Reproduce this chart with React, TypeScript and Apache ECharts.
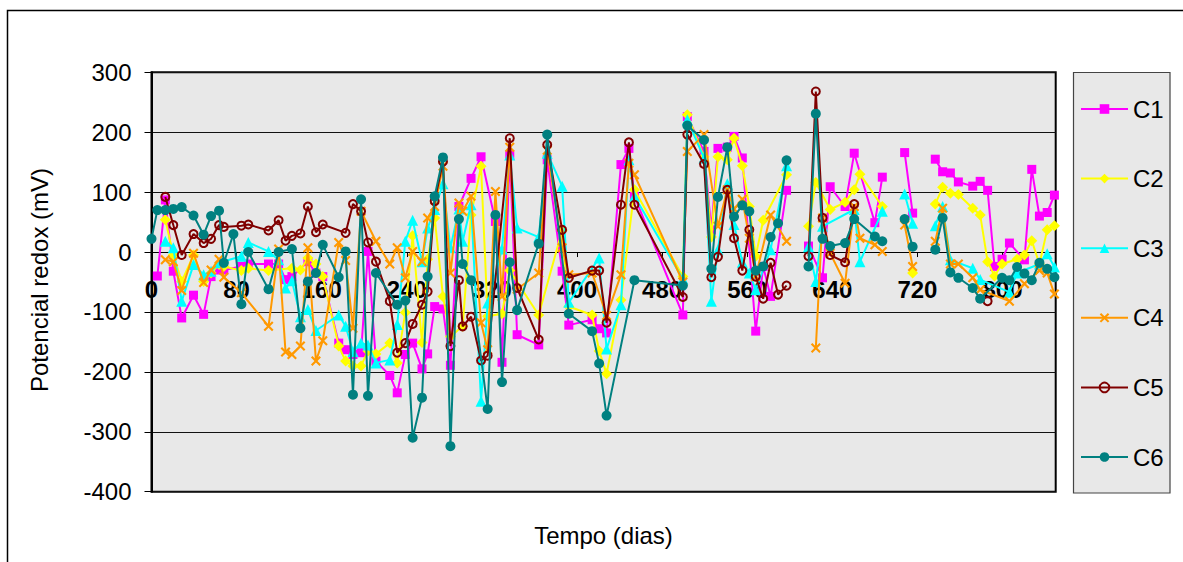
import React, { useEffect, useRef } from "react";
import * as echarts from "echarts";

// Sampling days (x) shared by all cells
const days = [
  0, 5.5, 13, 20.5, 28.4, 39.5, 49, 56, 63.5, 68, 77, 84.5, 91, 110, 119.5, 126, 132, 140, 147, 154.6,
  161, 176, 182.5, 189.4, 197, 203.5, 211, 224, 231, 238.6, 245.5, 254.3, 259.6, 266.2, 274, 281, 289,
  292.5, 300.4, 309.8, 316, 323.3, 329.5, 336.8, 343.7, 364, 372, 386, 392.3, 414.2, 420.8, 427.8,
  441.3, 448.8, 454, 499.5, 503.7, 519.4, 526.3, 532.5, 541.3, 547.6, 555.4, 562, 568, 575, 582, 589,
  597, 617.6, 624.5, 630.8, 638, 652, 660.6, 666, 680, 687, 708, 715.5, 736.8, 743.7, 751, 758.5, 772,
  779, 786, 792.5, 799.6, 806.5, 813.7, 820.6, 827.5, 834.7, 842, 848.8,
];

// Redox potential (mV) per cell; null = no reading that day
const c1 = [
  null, -40, 87, -32, -110, -72, -104, -41, -30, -30, null, -24, -20, -20, -20, -46, -41, null, -16, -35,
  -41, -152, -163, -171, -168, 1, -182, -206, -235, -171, -152, -195, -170, -91, -95, -189, 76,
  null, 123, 159, null, 51, -184, 162, -138, -155, 154, -32, -122, -113, -128, -135,
  146, 173, 93, -105, 226, 168, 37, 173, 175, 193, 157, null, -132, -24, -74, null,
  103, 10, null, -43, 109, 76, 165, null, 49, 125, 166, 65, 155, 134, 132, 117, 110,
  118, 103, -24, -12, 15, null, -13, 138, 60, 66, 95,
];
const c2 = [
  null, null, 54, -5, -49, -5, -49, -35, -21, -24, null, -31, -27, -31, null, null, -27, -30, -10, -20,
  -41, -157, -182, -190, -190, -165, -170, -152, -185, -101, 27, -151, -12, 57, -74, -141, null,
  -124, 62, 143, -107, null, -103, -31, null, -105, null, 36, -91, -105, -165, -203,
  -80, null, 104, -41, 229, 159, 25, 159, 154, 190, 144, 76, -7, 53, null, null,
  129, 43, 116, null, 71, 83, 104, 130, null, 76, null, -35, 80, 108, 98, 96, 73,
  62, -16, -40, -20, null, -12, -5, 19, -20, 37, 44,
];
const c3 = [
  null, null, 18, 7, -82, -21, -38, -32, -18, null, null, -7, 16, 1, -13, -60, -48, -108, -96, -131,
  null, -105, -124, -166, -152, -155, -185, -180, -121, 18, 53, -16, 40, 71, 114, 7, 72,
  18, 79, -249, -85, null, 5, 162, 40, 25, 165, 110, -84, null, -10, -162,
  -88, 154, 93, -45, 221, 157, -82, 4, 114, 46, -17, -35, -63, null, 4, null,
  144, 9, -49, 43, null, null, 71, -16, null, 68, 97, 48, 44, 76, -13, null, -27,
  -46, null, null, null, -67, -35, null, null, -20, -3, -25,
];
const c4 = [
  null, null, -13, -16, -64, -2, -51, -30, -12, -42, null, -68, null, -124, 5, -167, -171, -157, 7, -182,
  -148, 16, -14, -127, 68, null, 18, -20, 7, -43, 1, -16, 57, 76, 143, -35, 82,
  68, 93, -118, -163, 101, -74, 175, -62, -35, 170, 7, -38, -35, null, -106,
  -38, 148, 129, -50, 168, 196, null, 43, 104, 72, 88, 23, -41, null, 62, null,
  18, null, -160, 57, -2, -52, 76, 23, 12, 1, 45, -24, 18, 73, -20, -20, -43,
  -63, null, null, null, -82, null, -53, null, -31, -35, -70,
];
const c5 = [
  null, null, 92, 45, -5, 30, 15, 22, 45, 42, null, 44, 46, 36, 53, 19, 27, 31, 76, 33,
  46, null, 32, 80, 68, 16, -16, -82, -168, -152, -120, -88, -66, 85, 151, -157, -47,
  -124, -108, -181, -173, null, null, 190, -60, -146, 179, 37, -43, -31, -31, -118,
  79, 183, 79, -75, 196, 147, -42, -8, 104, 23, -31, 37, -41, -78, -18, -71,
  -56, -7, 268, 57, -5, -17, 80, null, null, null, null, null, null, null, null, null, null,
  null, -82, null, null, null, null, null, null, null, null, null,
];
const c6 = [
  22, 70, 70, 72, 75, 61, 29, 60, 69, -18, 30, -87, 0, -62, 0, null, 5, -127, -49, -35,
  12, -42, 1, -238, 88, -240, -35, null, -88, -81, -310, -243, -41, 93, 158, -324, 55,
  -20, -47, null, -262, 62, -217, -17, -97, 14, 196, null, -103, -132, -186, -273,
  null, null, -47, -56, 211, 187, -28, 92, 175, 59, 78, 68, -31, -24, 25, 48,
  153, -24, 231, 22, 10, 15, 55, null, 26, 18, 55, 9, 4, 57, -34, -43, -60,
  -78, null, null, -43, -47, -25, -36, -47, -18, -28, -42,
];

// Days with no sampling campaign: lines are broken there
const gapDays = [607, 697, 726];

const seriesNames = ["C1", "C2", "C3", "C4", "C5", "C6"];
const seriesValues = [c1, c2, c3, c4, c5, c6];
const seriesColors = ["#FF00FF", "#FFFF00", "#00FFFF", "#FF9900", "#800000", "#008080"];

const yTicks = { min: -400, max: 300, step: 100 };
const xTicks = { min: 0, max: 850, step: 80 };

const FONT = "'Liberation Sans', Arial, sans-serif";

// Plot area geometry
const GRID_TOP = 72.3;
const GRID_HEIGHT = 419.4;
// Lift the day axis from the plot bottom up to the 0 mV line
const ZERO_OFFSET = -(GRID_HEIGHT * (0 - yTicks.min)) / (yTicks.max - yTicks.min);

// Filled "x" cross marker
const CROSS =
  "path://M0,1.5L1.5,0L5,3.5L8.5,0L10,1.5L6.5,5L10,8.5L8.5,10L5,6.5L1.5,10L0,8.5L3.5,5Z";

function toPoints(values: (number | null)[]) {
  const pts: any[] = [];
  days.forEach((d, i) => {
    if (i > 0) {
      gapDays.forEach((g) => {
        if (days[i - 1] < g && d > g) pts.push([g, "-"]);
      });
    }
    const v = values[i];
    if (v !== null && v !== undefined) pts.push([d, v]);
  });
  return pts;
}

function markerFor(i: number, color: string) {
  switch (i) {
    case 0:
      return { symbol: "rect", symbolSize: 9, itemStyle: { color } };
    case 1:
      return { symbol: "diamond", symbolSize: 11, itemStyle: { color } };
    case 2:
      return { symbol: "triangle", symbolSize: 11, itemStyle: { color } };
    case 3:
      return { symbol: CROSS, symbolSize: 10, itemStyle: { color } };
    case 4:
      return {
        symbol: "circle",
        symbolSize: 8,
        itemStyle: { color: "rgba(0,0,0,0)", borderColor: color, borderWidth: 2 },
      };
    default:
      return { symbol: "circle", symbolSize: 10, itemStyle: { color } };
  }
}

export default function App() {
  const ref = useRef<HTMLDivElement>(null);

  useEffect(() => {
    if (!ref.current) return;
    const chart = echarts.init(ref.current, undefined, { renderer: "svg" });

    const series = seriesNames.map((name, i) => ({
      name,
      type: "line",
      data: toPoints(seriesValues[i]),
      connectNulls: false,
      lineStyle: { color: seriesColors[i], width: 2 },
      ...markerFor(i, seriesColors[i]),
      emphasis: { disabled: true },
      z: 3 + i,
    }));

    chart.setOption({
      animation: false,
      grid: {
        left: 151.5,
        top: GRID_TOP,
        width: 904.2,
        height: GRID_HEIGHT,
        show: true,
        backgroundColor: "#E8E8E8",
        borderColor: "#000",
        borderWidth: 2,
      },
      xAxis: {
        type: "value",
        position: "bottom",
        offset: ZERO_OFFSET,
        min: xTicks.min,
        max: xTicks.max,
        interval: xTicks.step,
        axisLine: { show: true, onZero: false, lineStyle: { color: "#000", width: 1 } },
        axisTick: { show: true, length: 5, lineStyle: { color: "#000", width: 1 } },
        axisLabel: {
          fontSize: 24,
          fontWeight: "bold",
          fontFamily: FONT,
          color: "#000",
          margin: 25,
          showMaxLabel: false,
        },
        splitLine: { show: false },
      },
      yAxis: {
        type: "value",
        min: yTicks.min,
        max: yTicks.max,
        interval: yTicks.step,
        axisLine: { show: true, onZero: false, lineStyle: { color: "#000", width: 2 } },
        axisTick: { show: true, length: 7, lineStyle: { color: "#000", width: 1 } },
        axisLabel: { fontSize: 24, fontFamily: FONT, color: "#000", margin: 20 },
        splitLine: { show: true, lineStyle: { color: "#111", width: 1 } },
      },
      legend: {
        orient: "vertical",
        left: 1080,
        top: 97,
        itemWidth: 47,
        itemHeight: 12,
        itemGap: 45.6,
        padding: 0,
        textStyle: { fontSize: 24, fontFamily: FONT, color: "#000", lineHeight: 24 },
        data: seriesNames,
      },
      graphic: [
        {
          type: "rect",
          z: 0,
          shape: { x: 7.5, y: 10.5, width: 1300, height: 700 },
          style: { fill: "none", stroke: "#000", lineWidth: 1.5 },
        },
        {
          type: "rect",
          z: 1,
          shape: { x: 1073.5, y: 72.5, width: 96.5, height: 420.5 },
          style: { fill: "#E8E8E8", stroke: "#444", lineWidth: 1.2 },
        },
        {
          type: "text",
          z: 2,
          x: 39,
          y: 280,
          rotation: Math.PI / 2,
          style: {
            text: "Potencial redox (mV)",
            font: `24px ${FONT}`,
            fill: "#000",
            align: "center",
            verticalAlign: "middle",
          },
        },
        {
          type: "text",
          z: 2,
          x: 603.5,
          y: 535,
          style: {
            text: "Tempo (dias)",
            font: `24px ${FONT}`,
            fill: "#000",
            align: "center",
            verticalAlign: "middle",
          },
        },
      ],
      series,
    });

    return () => chart.dispose();
  }, []);

  return (
    <div
      ref={ref}
      style={{ position: "absolute", left: 0, top: 0, width: 1183, height: 562 }}
    />
  );
}
